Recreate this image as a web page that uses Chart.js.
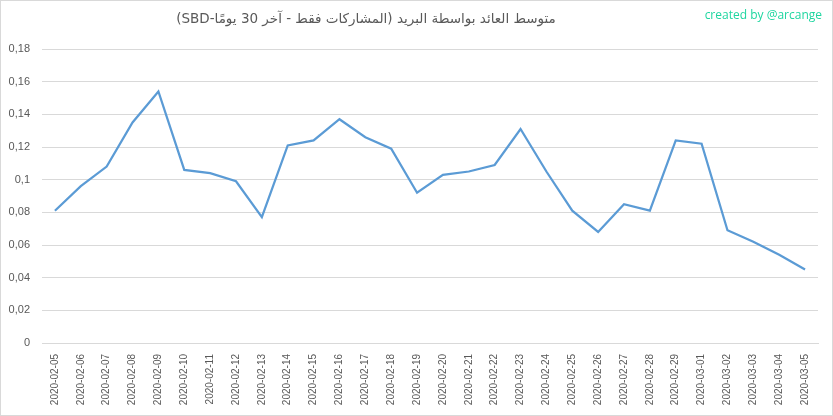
<!DOCTYPE html>
<html>
<head>
<meta charset="utf-8">
<script src="https://cdn.jsdelivr.net/npm/chart.js@4"></script>
<style>
  html, body { margin: 0; padding: 0; background: #fff; }
  #wrap { position: relative; width: 833px; height: 416px; }
  #chart { position: absolute; left: 0; top: 0; }
  #title {
    position: absolute; left: 116px; width: 500px; top: 10px;
    text-align: center; font: 13.5px 'DejaVu Sans', 'Open Sans', sans-serif;
    color: #595959; white-space: nowrap;
  }
  #credit {
    position: absolute; right: 11px; top: 6px;
    font: 12px 'Open Sans', 'DejaVu Sans', sans-serif; color: #1fd6a0;
  }
  #frame {
    position: absolute; left: 0; top: 0; width: 831px; height: 414px;
    border: 1px solid #d9d9d9; pointer-events: none;
  }
</style>
</head>
<body>
<div id="wrap">
  <canvas id="chart" width="833" height="416"></canvas>
  <div id="title" dir="rtl">متوسط العائد بواسطة البريد (المشاركات فقط - آخر 30 يومًا-SBD)</div>
  <div id="credit">created by @arcange</div>
  <div id="frame"></div>
</div>
<script>
const dates = [
  '2020-02-05', '2020-02-06', '2020-02-07', '2020-02-08', '2020-02-09', '2020-02-10',
  '2020-02-11', '2020-02-12', '2020-02-13', '2020-02-14', '2020-02-15', '2020-02-16',
  '2020-02-17', '2020-02-18', '2020-02-19', '2020-02-20', '2020-02-21', '2020-02-22',
  '2020-02-23', '2020-02-24', '2020-02-25', '2020-02-26', '2020-02-27', '2020-02-28',
  '2020-02-29', '2020-03-01', '2020-03-02', '2020-03-03', '2020-03-04', '2020-03-05'
];
const avgPayout = [
  0.081, 0.096, 0.108, 0.135, 0.154, 0.106,
  0.104, 0.099, 0.077, 0.121, 0.124, 0.137,
  0.126, 0.119, 0.092, 0.103, 0.105, 0.109,
  0.131, 0.105, 0.081, 0.068, 0.085, 0.081,
  0.124, 0.122, 0.069, 0.062, 0.054, 0.045
];
const yMin = 0;
const yMax = 0.18;
const yStep = 0.02;

new Chart(document.getElementById('chart'), {
  type: 'line',
  data: {
    labels: dates,
    datasets: [{
      data: avgPayout,
      borderColor: '#5b9bd5',
      borderWidth: 2.25,
      pointRadius: 0,
      tension: 0,
      fill: false
    }]
  },
  options: {
    responsive: false,
    animation: false,
    layout: { padding: { top: 49, right: 15, bottom: 0, left: 0 } },
    plugins: { legend: { display: false }, tooltip: { enabled: false } },
    scales: {
      x: {
        offset: true,
        grid: { display: false, drawTicks: false },
        border: { color: '#d9d9d9', width: 1 },
        ticks: {
          color: '#595959',
          font: { family: 'Liberation Sans', size: 10 },
          minRotation: 90,
          maxRotation: 90,
          autoSkip: false,
          padding: 11
        },
        afterFit: (axis) => { axis.height = 73; }
      },
      y: {
        min: yMin,
        max: yMax,
        grid: { color: '#d9d9d9', drawTicks: false },
        border: { display: false },
        ticks: {
          stepSize: yStep,
          color: '#595959',
          font: { family: 'Liberation Sans', size: 11 },
          padding: 12,
          callback: (v) => String(+v.toFixed(2)).replace('.', ',')
        },
        afterFit: (axis) => { axis.width = 42; }
      }
    }
  }
});
</script>
</body>
</html>
